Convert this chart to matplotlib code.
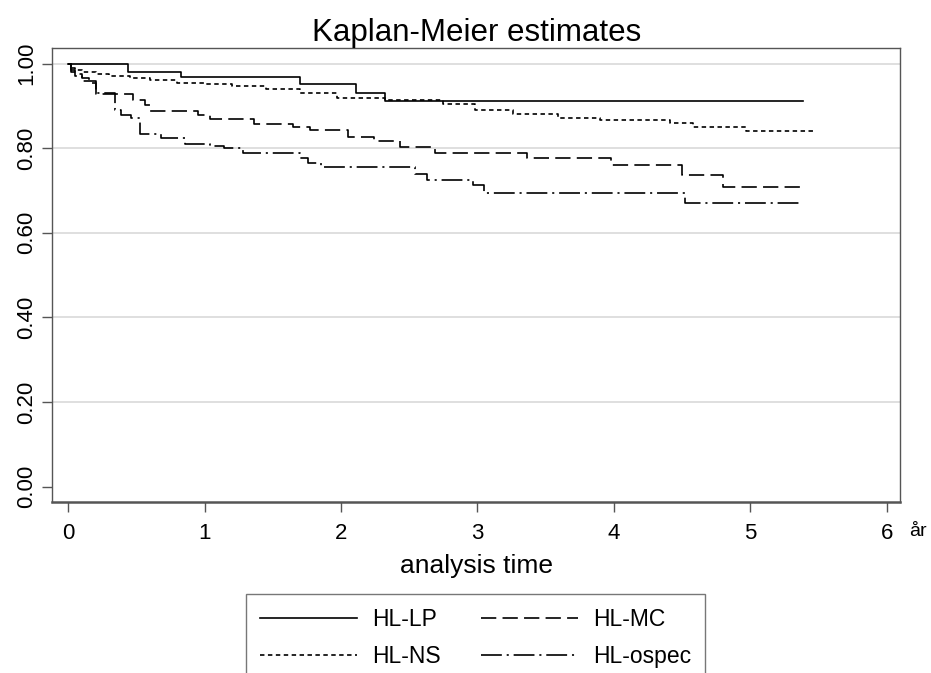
import matplotlib
matplotlib.use("Agg")
import matplotlib.pyplot as plt

plt.rcParams['font.family'] = ['Liberation Sans', 'DejaVu Sans']
plt.rcParams['lines.scale_dashes'] = False

# Kaplan-Meier step data (time in years, survival)
lp_t = [0, 0.435, 0.83, 1.70, 2.11, 2.32, 5.39]
lp_s = [1.0, 0.981, 0.968, 0.951, 0.931, 0.911, 0.911]

ns_t = [0, 0.02, 0.05, 0.1, 0.2, 0.3, 0.45, 0.6, 0.8, 1.0, 1.2, 1.45, 1.7,
        1.97, 2.32, 2.75, 2.98, 3.26, 3.59, 3.9, 4.41, 4.58, 4.97, 5.46]
ns_s = [1.0, 0.99, 0.985, 0.98, 0.975, 0.97, 0.965, 0.96, 0.955, 0.951, 0.946,
        0.94, 0.931, 0.918, 0.913, 0.905, 0.891, 0.881, 0.871, 0.867, 0.859,
        0.851, 0.841, 0.841]

mc_t = [0, 0.02, 0.05, 0.1, 0.15, 0.2, 0.475, 0.56, 0.60, 0.95, 1.04, 1.36,
        1.65, 1.77, 2.05, 2.24, 2.43, 2.69, 3.36, 3.98, 4.50, 4.80, 5.39]
mc_s = [1.0, 0.985, 0.975, 0.965, 0.955, 0.928, 0.914, 0.902, 0.888, 0.879,
        0.869, 0.858, 0.851, 0.843, 0.826, 0.816, 0.802, 0.788, 0.778, 0.761,
        0.737, 0.709, 0.709]

os_t = [0, 0.02, 0.05, 0.1, 0.2, 0.34, 0.39, 0.46, 0.525, 0.68, 0.855, 1.04,
        1.14, 1.28, 1.70, 1.76, 1.85, 2.54, 2.63, 2.97, 3.05, 4.52, 5.39]
os_s = [1.0, 0.98, 0.97, 0.958, 0.931, 0.891, 0.879, 0.871, 0.833, 0.824,
        0.810, 0.806, 0.80, 0.788, 0.777, 0.766, 0.755, 0.739, 0.725, 0.712,
        0.695, 0.670, 0.670]

y_ticks = [0, 0.2, 0.4, 0.6, 0.8, 1.0]
x_ticks = [0, 1, 2, 3, 4, 5, 6]

fig = plt.figure(figsize=(9.31, 6.73), dpi=100)
ax = fig.add_axes([0.0562, 0.2541, 0.9105, 0.6741])

lw = 1.2
ax.plot(lp_t, lp_s, drawstyle='steps-post', color='black', lw=lw, label='HL-LP')
ax.plot(mc_t, mc_s, drawstyle='steps-post', color='black', lw=lw,
        dashes=(11, 4.5), label='HL-MC')
ax.plot(ns_t, ns_s, drawstyle='steps-post', color='black', lw=lw,
        dashes=(3.2, 2.5), label='HL-NS')
ax.plot(os_t, os_s, drawstyle='steps-post', color='black', lw=lw,
        dashes=(15, 3.5, 1.5, 3.5), label='HL-ospec')

ax.set_xlim(-0.117, 6.098)
ax.set_ylim(-0.036, 1.036)
ax.set_xticks(x_ticks)
ax.set_yticks(y_ticks)
ax.set_yticklabels(["%.2f" % v for v in y_ticks], rotation=90, va='center')

ax.grid(axis='y', color='#dcdcdc', lw=1.3)
ax.yaxis.get_gridlines()[0].set_visible(False)
ax.set_axisbelow(True)

for name, sp in ax.spines.items():
    sp.set_color('#555555')
    sp.set_linewidth(1.0)
ax.spines['bottom'].set_linewidth(1.8)

ax.tick_params(axis='both', length=7, width=1, color='#555555', labelsize=16)
ax.tick_params(axis='x', pad=8)
ax.tick_params(axis='y', pad=4)

ax.set_title("Kaplan-Meier estimates", fontsize=22.5, pad=5)
ax.set_xlabel("analysis time", fontsize=19, labelpad=7)

fig.text(909 / 931, 1 - 531 / 673, "år", fontsize=14, ha='left', va='center')

# legend order: LP, MC / NS, ospec  (2 columns, filled row-wise)
h, l = ax.get_legend_handles_labels()
order = [0, 2, 1, 3]
leg = fig.legend([h[i] for i in order], [l[i] for i in order], ncol=2,
                 loc='upper left', bbox_to_anchor=(246 / 931, 1 - 594 / 673),
                 fontsize=16.5, frameon=True, fancybox=False, borderpad=0.62,
                 handlelength=4.24, handletextpad=0.65, columnspacing=1.75,
                 labelspacing=0.6, borderaxespad=0)
leg.get_frame().set_edgecolor('#555555')
leg.get_frame().set_linewidth(1.0)

plt.savefig("out.png", dpi=100)
